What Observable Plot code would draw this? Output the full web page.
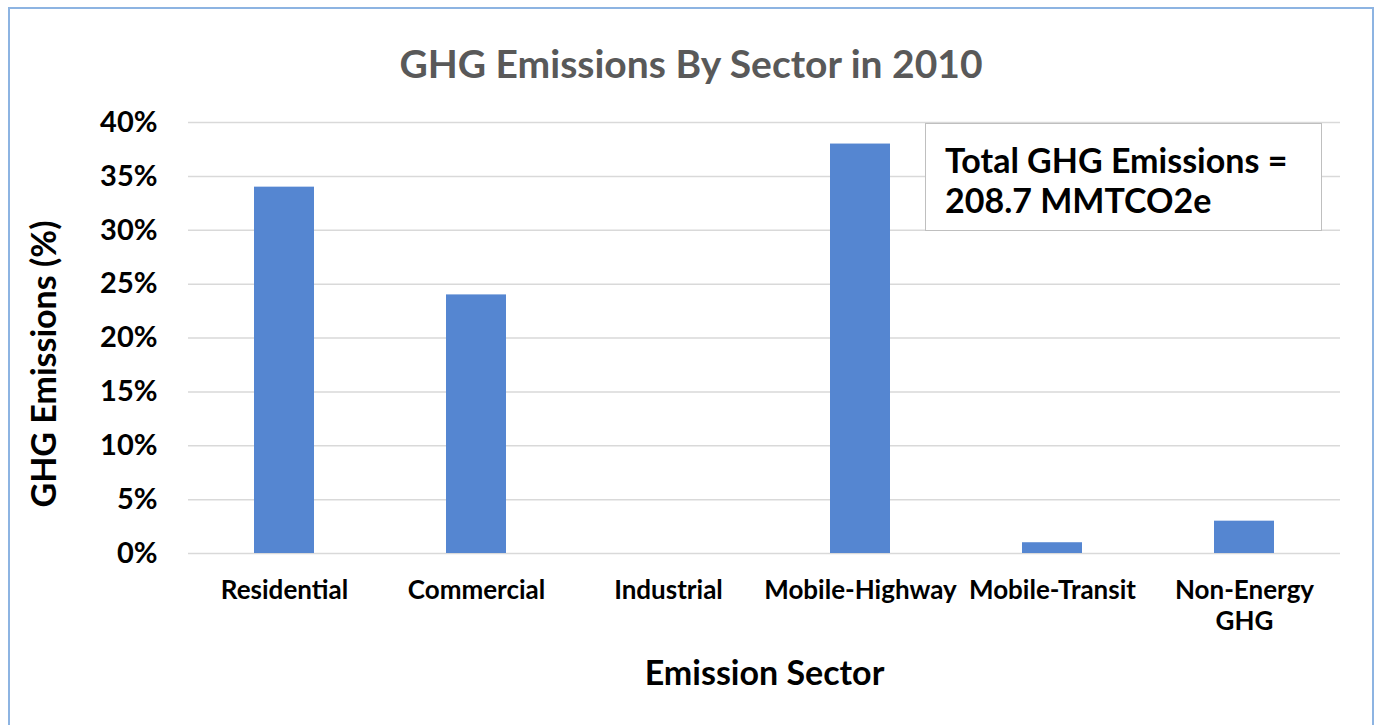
<!DOCTYPE html>
<html>
<head>
<meta charset="utf-8">
<script src="https://cdn.jsdelivr.net/npm/d3@7"></script>
<script src="https://cdn.jsdelivr.net/npm/@observablehq/plot@0.6"></script>
<style>
  body { margin: 0; background: #fff; font-family: Lato, "Open Sans", sans-serif; }
  #wrap { position: relative; width: 1382px; height: 725px; overflow: hidden; }
  #border { position: absolute; left: 8px; top: 7px; width: 1366px; height: 740px; border: 2px solid #8DB4E2; box-sizing: border-box; }
  #title { position: absolute; left: 0; width: 1382px; top: 39px; text-align: center; font-weight: bold; font-size: 39px; line-height: 48px; color: #595959; }
  #note { position: absolute; left: 925px; top: 123px; width: 397px; height: 108px; box-sizing: border-box; background: #fff; border: 1.5px solid #BFBFBF; padding: 16px 0 0 19px; font-weight: bold; font-size: 34px; line-height: 40px; color: #000; white-space: nowrap; }
  #ytitle { position: absolute; left: 42px; top: 364px; transform: translate(-50%, -50%) rotate(-90deg); font-weight: bold; font-size: 34px; color: #000; white-space: nowrap; }
  #chart { position: absolute; left: 0; top: 0; }
</style>
</head>
<body>
<div id="wrap">
  <div id="chart"></div>
  <div id="border"></div>
  <div id="title">GHG Emissions By Sector in 2010</div>
  <div id="note">Total GHG Emissions =<br>208.7 MMTCO2e</div>
  <div id="ytitle"></div>
</div>
<script>
const sectors = ["Residential", "Commercial", "Industrial", "Mobile-Highway", "Mobile-Transit", "Non-Energy GHG"];
const shares = [0.34, 0.24, 0, 0.38, 0.01, 0.03];
const yTicks = [0, 0.05, 0.10, 0.15, 0.20, 0.25, 0.30, 0.35, 0.40];
const xTitle = "Emission Sector";
const yTitle = "GHG Emissions (%)";

document.getElementById("ytitle").textContent = yTitle;

const data = sectors.map((s, i) => ({sector: s, value: shares[i]}));
const labelMap = {"Non-Energy GHG": "Non-Energy\nGHG"};

const plot = Plot.plot({
  width: 1382,
  height: 725,
  marginLeft: 188,
  marginRight: 42,
  marginTop: 122,
  marginBottom: 172,
  style: {fontFamily: "Lato, 'Open Sans', sans-serif", background: "transparent"},
  x: {domain: sectors, paddingInner: 0.6875, paddingOuter: 0.34375, label: null},
  y: {domain: [0, 0.40], label: null},
  marks: [
    Plot.gridY(yTicks, {stroke: "#D9D9D9", strokeOpacity: 1, strokeWidth: 1.5}),
    Plot.barY(data, {x: "sector", y: "value", fill: "#5586D1"}),
    Plot.axisY({ticks: yTicks, tickFormat: d => Math.round(d * 100) + "%", tickSize: 0, tickPadding: 31,
      fontSize: 29, fontWeight: "bold", fill: "#000", label: null}),
    Plot.axisX({tickSize: 0, tickPadding: 23, tickFormat: d => labelMap[d] || d,
      fontSize: 26, fontWeight: "bold", fill: "#000", lineHeight: 1.2, label: null}),
    Plot.text([xTitle], {frameAnchor: "bottom", dy: 131, text: d => d, fontSize: 34, fontWeight: "bold", fill: "#000"})
  ]
});
document.getElementById("chart").appendChild(plot);
</script>
</body>
</html>
